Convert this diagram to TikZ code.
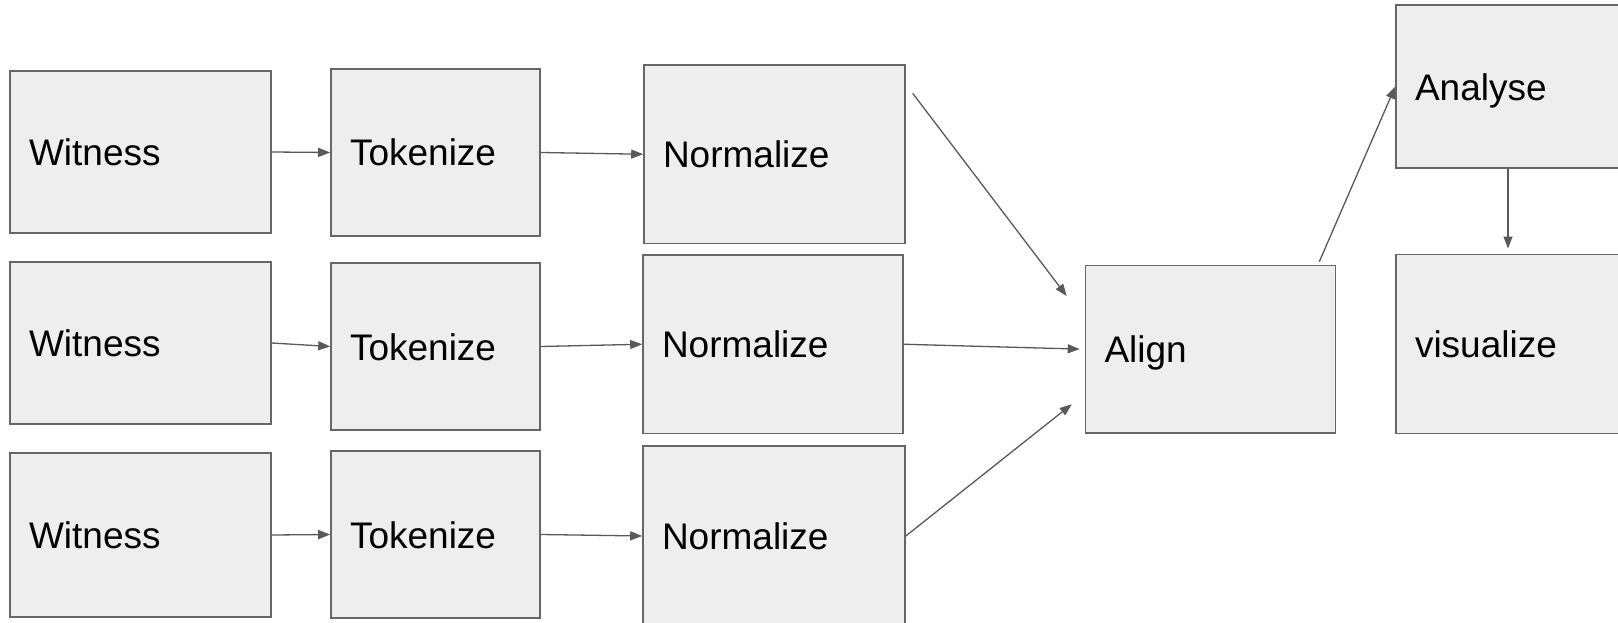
\documentclass[tikz,border=0pt]{standalone}
\usepackage{fontspec}
\setmainfont{Liberation Sans}
\usetikzlibrary{arrows.meta,calc}
\definecolor{boxfill}{HTML}{EEEEEE}
\definecolor{boxline}{HTML}{666666}
\definecolor{arr}{HTML}{595959}
\begin{document}
\begin{tikzpicture}[x=1pt,y=-1pt,
  stepbox/.style={draw=boxline, fill=boxfill, line width=1.6pt, inner xsep=19pt, inner ysep=0pt,
    align=left, font=\fontsize{37}{44}\selectfont, text height=27pt, text depth=0pt, anchor=center},
  conn/.style={draw=arr, line width=1.3pt, -{Triangle[length=12pt,width=9pt]}}]
\clip (0,0) rectangle (1618,623);
\fill[white] (0,0) rectangle (1618,623);
% row 1
\node[stepbox, text width=223pt, minimum height=162pt] (w1) at (140.5,152) {Witness};
\node[stepbox, text width=171pt, minimum height=167pt] (t1) at (435.5,152.5) {Tokenize};
\node[stepbox, text width=223pt, minimum height=178.5pt] (n1) at (774.5,154.25) {Normalize};
% row 2
\node[stepbox, text width=223pt, minimum height=162pt] (w2) at (140.5,343) {Witness};
\node[stepbox, text width=171pt, minimum height=167pt] (t2) at (435.5,346.5) {Tokenize};
\node[stepbox, text width=222pt, minimum height=178.5pt] (n2) at (773,344.25) {Normalize};
% row 3
\node[stepbox, text width=223pt, minimum height=164pt] (w3) at (140.5,535) {Witness};
\node[stepbox, text width=171pt, minimum height=167pt] (t3) at (435.5,534.5) {Tokenize};
\node[stepbox, text width=224pt, minimum height=180pt] (n3) at (774,536) {Normalize};
% right part
\node[stepbox, text width=212pt, minimum height=167.5pt] (align) at (1210.5,349.25) {Align};
\node[stepbox, text width=186pt, minimum height=163.3pt] (analyse) at (1508,86.6) {Analyse};
\node[stepbox, text width=186pt, minimum height=179pt] (visualize) at (1508,343.8) {visualize};
% free ends
\coordinate (n1o) at (912.7,93.3);
\coordinate (al1) at (1066.7,296);
\coordinate (al3) at (1071.7,404.3);
\coordinate (alt) at (1319.3,261.7);
% connectors
\draw[conn] (w1.east) -- (t1.west);
\draw[conn] (t1.east) -- (n1.west);
\draw[conn] (w2.east) -- (t2.west);
\draw[conn] (t2.east) -- (n2.west);
\draw[conn] (w3.east) -- (t3.west);
\draw[conn] (t3.east) -- (n3.west);
\draw[conn] (n1o) -- (al1);
\draw[conn, shorten >=5pt] (n2.east) -- (align.west);
\draw[conn] (n3.east) -- (al3);
\draw[conn] (alt) -- (analyse.west);
\draw[conn, shorten >=5pt] (analyse.south) -- (visualize.north);
\end{tikzpicture}
\end{document}
